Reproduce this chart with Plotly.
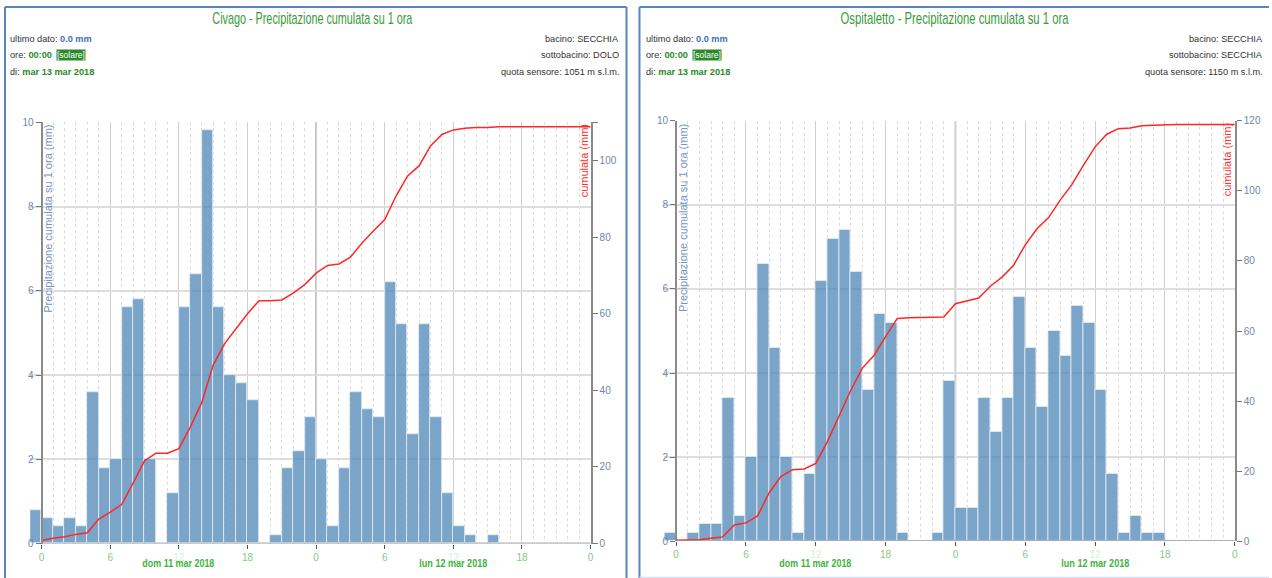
import json
import plotly.graph_objects as go

W, H = 1272, 578

# ---------------- data ----------------
hours = list(range(0, 49))  # timestamp (h) from dom 11 mar 00:00; bar = rain in hour ending at h
tick_hours = [0, 6, 12, 18, 24, 30, 36, 42, 48]
tick_labels = ["0", "6", "12", "18", "0", "6", "12", "18", "0"]
day_label_hours = [12, 36]
day_labels = ["dom 11 mar 2018", "lun 12 mar 2018"]

civago_rain = [0.8, 0.6, 0.4, 0.6, 0.4, 3.6, 1.8, 2.0, 5.6, 5.8,
               2.0, 0.0, 1.2, 5.6, 6.4, 9.8, 5.6, 4.0, 3.8, 3.4,
               0.0, 0.2, 1.8, 2.2, 3.0, 2.0, 0.4, 1.8, 3.6, 3.2,
               3.0, 6.2, 5.2, 2.6, 5.2, 3.0, 1.2, 0.4, 0.2, 0.0,
               0.2, 0.0, 0.0, 0.0, 0.0, 0.0, 0.0, 0.0, 0.0]
civago_cum = [0.8, 1.4, 1.8, 2.4, 2.8, 6.4, 8.2, 10.2, 15.8, 21.6,
              23.6, 23.6, 24.8, 30.4, 36.8, 46.6, 52.2, 56.2, 60.0, 63.4,
              63.4, 63.6, 65.4, 67.6, 70.6, 72.6, 73.0, 74.8, 78.4, 81.6,
              84.6, 90.8, 96.0, 98.6, 103.8, 106.8, 108.0, 108.4, 108.6, 108.6,
              108.8, 108.8, 108.8, 108.8, 108.8, 108.8, 108.8, 108.8, 108.8]

ospit_rain = [0.2, 0.0, 0.2, 0.4, 0.4, 3.4, 0.6, 2.0, 6.6, 4.6,
              2.0, 0.2, 1.6, 6.2, 7.2, 7.4, 6.4, 3.6, 5.4, 5.2,
              0.2, 0.0, 0.0, 0.2, 3.8, 0.8, 0.8, 3.4, 2.6, 3.4,
              5.8, 4.6, 3.2, 5.0, 4.4, 5.6, 5.2, 3.6, 1.6, 0.2,
              0.6, 0.2, 0.2, 0.0, 0.0, 0.0, 0.0, 0.0, 0.0]
ospit_cum = [0.2, 0.2, 0.4, 0.8, 1.2, 4.6, 5.2, 7.2, 13.8, 18.4,
             20.4, 20.6, 22.2, 28.4, 35.6, 43.0, 49.4, 53.0, 58.4, 63.6,
             63.8, 63.8, 63.8, 64.0, 67.8, 68.6, 69.4, 72.8, 75.4, 78.8,
             84.6, 89.2, 92.4, 97.4, 101.8, 107.4, 112.6, 116.2, 117.8, 118.0,
             118.6, 118.8, 119.0, 119.0, 119.0, 119.0, 119.0, 119.0, 119.0]

rain_ticks = [0, 2, 4, 6, 8, 10]
civago_cum_ticks = [0, 20, 40, 60, 80, 100, 110]
civago_cum_labels = ["0", "20", "40", "60", "80", "100", ""]
ospit_cum_ticks = [0, 20, 40, 60, 80, 100, 120]
ospit_cum_labels = ["0", "20", "40", "60", "80", "100", "120"]

stations = ["Civago", "Ospitaletto"]
bacini = ["SECCHIA", "SECCHIA"]
sottobacini = ["DOLO", "SECCHIA"]
quote = ["1051", "1150"]

# ---------------- style / layout ----------------
NARROW = "Liberation Sans Narrow, Arial Narrow, Liberation Sans, sans-serif"
SANS = "Liberation Sans, Arial, sans-serif"
BAR = "rgba(70,130,180,0.72)"
TICKC = "#7384ad"
XTICKC = "#86c886"
INFO = 9.2
FRAME = "#5a84bf"

# the photographed page shows the figure slightly compressed vertically;
# positions below are target picture pixels, converted here
YOFF, YS = 6.0, 0.979

def px(x):
    return x / W

def fy(y):
    return max(0.0, (y - YOFF) / YS)

def py(y):
    return 1 - fy(y) / H

panels = [
    dict(x0=41.7, pph=11.465, ytop=122.0, ybot=542.5, cmax=110,
         rain=civago_rain, cum=civago_cum, cticks=civago_cum_ticks, clabels=civago_cum_labels,
         info_l=8, info_r=622, center=313, title_w=200),
    dict(x0=677.7, pph=11.667, ytop=120.7, ybot=540.0, cmax=120,
         rain=ospit_rain, cum=ospit_cum, cticks=ospit_cum_ticks, clabels=ospit_cum_labels,
         info_l=646, info_r=1268, center=957, title_w=228),
]

text_widths = {}     # condensed text: target width in px

fig = go.Figure()
shapes = []
annotations = []
layout = dict(width=W, height=H, margin=dict(l=0, r=0, t=0, b=0),
              paper_bgcolor="white", plot_bgcolor="white", showlegend=False,
              bargap=0)

for i, p in enumerate(panels):
    xa = "x" if i == 0 else "x2"
    ya_r = "y" if i == 0 else "y3"
    ya_c = "y2" if i == 0 else "y4"
    xkey = "xaxis" if i == 0 else "xaxis2"
    yrkey = "yaxis" if i == 0 else "yaxis3"
    yckey = "yaxis2" if i == 0 else "yaxis4"

    xl = p["x0"] - p["pph"]
    xr = p["x0"] + 48 * p["pph"]
    xdom = [px(xl), px(xr)]
    ydom = [py(p["ybot"]), py(p["ytop"])]

    fig.add_trace(go.Bar(x=hours, y=p["rain"], width=1, offset=-1,
                         marker=dict(color=BAR, line=dict(color="rgba(225,235,245,0.9)", width=1)),
                         xaxis=xa, yaxis=ya_r))
    fig.add_trace(go.Scatter(x=hours, y=p["cum"], mode="lines",
                             line=dict(color="#ff2626", width=1.5),
                             xaxis=xa, yaxis=ya_c))

    layout[xkey] = dict(
        domain=xdom, range=[-1, 48], anchor=ya_r,
        tickmode="array", tickvals=tick_hours,
        ticktext=[(f"<span style='color:#d4eed4'>{t}</span>" if t == "12" else t) for t in tick_labels],
        ticks="outside", ticklen=4, tickcolor="#555", tickwidth=1,
        tickfont=dict(family=SANS, size=10, color=XTICKC),
        showgrid=True, gridcolor="#cfcfcf", gridwidth=1,
        minor=dict(tickmode="array", tickvals=hours, showgrid=True, griddash="dot",
                   gridcolor="#dcdcdc", gridwidth=1, ticks=""),
        showline=False, zeroline=False, fixedrange=True,
    )
    layout[yrkey] = dict(
        domain=ydom, range=[0, 10], anchor="free", position=px(p["x0"]),
        tickmode="array", tickvals=rain_ticks,
        ticks="outside", ticklen=5, tickcolor="#777",
        tickfont=dict(family=SANS, size=10, color=TICKC),
        showgrid=True, gridcolor="#dedede", gridwidth=1.5,
        showline=True, linecolor="#8a8a8a", linewidth=2, zeroline=False,
    )
    layout[yckey] = dict(
        domain=ydom, range=[0, p["cmax"]], anchor=xa, overlaying=ya_r, side="right",
        tickmode="array", tickvals=p["cticks"], ticktext=p["clabels"],
        ticks="outside", ticklen=5, tickcolor="#777",
        tickfont=dict(family=SANS, size=10, color=TICKC),
        showgrid=False, showline=True, linecolor="#8a8a8a", linewidth=2, zeroline=False,
    )

    # mask gridlines left of x=0, darker day boundary, baseline
    shapes.append(dict(type="rect", xref=xa, yref="paper", x0=-1, x1=0, y0=ydom[0], y1=ydom[1] + 0.003,
                       fillcolor="white", line=dict(width=0), layer="between"))
    shapes.append(dict(type="line", xref=xa, yref="paper", x0=24, x1=24, y0=ydom[0], y1=ydom[1],
                       line=dict(color="#a3a3a3", width=1.5), layer="between"))
    shapes.append(dict(type="line", xref=xa, yref=ya_r, x0=0, x1=48, y0=0, y1=0,
                       line=dict(color="#9a9a9a", width=1.5), layer="above"))

    # axis titles inside the plot
    annotations.append(dict(text="Precipitazione cumulata su 1 ora (mm)", textangle=-90,
                            x=px(p["x0"] + 7), y=py(p["ytop"] + 1), xref="paper", yref="paper",
                            xanchor="center", yanchor="top", showarrow=False,
                            font=dict(family=SANS, size=11, color="#7593c4")))
    annotations.append(dict(text="cumulata (mm)", textangle=-90,
                            x=px(xr - 7), y=py(p["ytop"]), xref="paper", yref="paper",
                            xanchor="center", yanchor="top", showarrow=False,
                            font=dict(family=SANS, size=11, color="#ff3030")))
    # day labels
    for hh, lab, wdt in zip(day_label_hours, day_labels, [72, 68]):
        annotations.append(dict(text=f"<b>{lab}</b>", x=hh, xref=xa, y=py(562), yref="paper",
                                xanchor="center", yanchor="middle", showarrow=False,
                                font=dict(family=NARROW, size=11, color="#3cb43c")))
        text_widths[lab] = wdt

    # header
    title = f"{stations[i]} - Precipitazione cumulata su 1 ora"
    annotations.append(dict(text=title,
                            x=px(p["center"]), y=py(18), xref="paper", yref="paper",
                            xanchor="center", yanchor="middle", showarrow=False,
                            font=dict(family=NARROW, size=17, color="#3a9a3a")))
    text_widths[title] = p["title_w"]

    il = px(p["info_l"])
    left_rows = [(39, "ultimo dato: ", "0.0 mm", "#3d6fc2"),
                 (55, "ore: ", "00:00", "#2a8a2a"),
                 (72, "di: ", "mar 13 mar 2018", "#2a8a2a")]
    for yy, lab, val, col in left_rows:
        annotations.append(dict(text=f"{lab}<b><span style='color:{col}'>{val}</span></b>",
                                x=il, y=py(yy), xref="paper", yref="paper", xanchor="left",
                                yanchor="middle", align="left", showarrow=False,
                                font=dict(family=NARROW, size=INFO, color="#333")))
    annotations.append(dict(text="[solare]", x=px(p["info_l"] + 48), y=py(55), xref="paper", yref="paper",
                            xanchor="left", yanchor="middle", showarrow=False, bgcolor="#2a8a2a",
                            borderpad=0, font=dict(family=NARROW, size=8.5, color="white")))
    ir = px(p["info_r"])
    for yy, txt in [(39, f"bacino: {bacini[i]}"), (55, f"sottobacino: {sottobacini[i]}"),
                    (72, f"quota sensore: {quote[i]} m s.l.m.")]:
        annotations.append(dict(text=txt, x=ir, y=py(yy), xref="paper", yref="paper",
                                xanchor="right", yanchor="middle", align="right", showarrow=False,
                                font=dict(family=NARROW, size=INFO, color="#333")))

# panel frames, kept inside the page
def fline(x0, y0, x1, y1, color=FRAME, width=2):
    shapes.append(dict(type="line", xref="paper", yref="paper", x0=px(x0), x1=px(x1),
                       y0=py(y0), y1=py(y1), line=dict(color=color, width=width), layer="above"))

fline(5, 7, 5, 600)
fline(628, 7, 628, 600)
fline(5, 7, 628, 7)
fline(641, 7, 641, 600)
fline(641, 7, 1272, 7)
fline(641, 576.5, 1272, 576.5, color="#d6e2f1", width=2)

layout["shapes"] = shapes
layout["annotations"] = annotations
fig.update_layout(**layout)

condense_js = """
var gd = document.getElementById('{plot_id}');
var widths = %s;
gd.querySelectorAll('text.annotation-text').forEach(function(t){
  var s = (t.textContent || '').trim();
  if (widths[s] !== undefined) {
    t.setAttribute('textLength', widths[s].toFixed(1));
    t.setAttribute('lengthAdjust', 'spacingAndGlyphs');
  }
});
""" % json.dumps(text_widths)

fig.write_html("out.html", config={"displayModeBar": False},
               post_script=["document.documentElement.style.overflow='hidden';"
                            "document.body.style.margin='0px';document.body.style.overflow='hidden';",
                            condense_js])
